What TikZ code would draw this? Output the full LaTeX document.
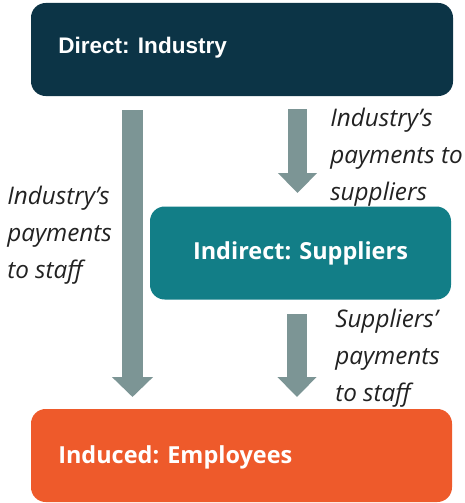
\documentclass[tikz,border=0pt]{standalone}
\usepackage{fontspec}
\setmainfont{Open Sans}
\newfontfamily\boxfont{Liberation Sans}
\usetikzlibrary{arrows.meta}
\definecolor{dirc}{HTML}{0C3446}
\definecolor{indc}{HTML}{127E87}
\definecolor{empc}{HTML}{EE5A2B}
\definecolor{arrc}{HTML}{7C9595}
\definecolor{txtc}{HTML}{222222}
\tikzset{
  box/.style={rounded corners=11pt, inner sep=0pt, minimum height=69.75pt},
  boxtext/.style={text=white, inner sep=0pt, font=\bfseries\fontsize{17.6}{22}\selectfont},
  note/.style={text=txtc, align=left, inner sep=0pt, anchor=north west,
    font=\fontsize{18.2}{27.6}\selectfont\itshape},
  flow/.style={draw=arrc, line width=15.4pt, -{Triangle[length=15pt, width=30pt]}}
}
\begin{document}
\begin{tikzpicture}[x=0.75pt, y=-0.75pt]
\useasboundingbox (0,0) rectangle (464,503);
% boxes
\node[box, fill=dirc, minimum width=316.5pt] (direct) at (242,49.5) {};
\node[boxtext, anchor=west, font=\boxfont\bfseries\fontsize{16.9}{20}\selectfont] (directt) at (58,48) {Direct: Industry};
\node[box, fill=indc, minimum width=225.75pt, boxtext] (indirect) at (300.5,253) {Indirect: Suppliers};
\node[box, fill=empc, minimum width=315.75pt] (induced) at (241.5,455.5) {};
\node[boxtext, anchor=west] (inducedt) at (58,457) {Induced: Employees};
% arrows
\coordinate (a1s) at (132.5,110);
\coordinate (a1e) at (132.5,397);
\coordinate (a2s) at (297.5,109);
\coordinate (a2e) at (297.5,193);
\coordinate (a3s) at (297,314);
\coordinate (a3e) at (297,397);
\draw[flow] (a1s) -- (a1e);
\draw[flow, line width=14.6pt, -{Triangle[length=15pt, width=28.5pt]}] (a2s) -- (a2e);
\draw[flow, line width=14.6pt, -{Triangle[length=15pt, width=28.5pt]}] (a3s) -- (a3e);
% labels
\node[note] (n1) at (330,108) {Industry's\\payments to\\suppliers};
\node[note] (n2) at (7,186) {Industry's\\payments\\to staff};
\node[note] (n3) at (335,309) {Suppliers'\\payments\\to staff};
\end{tikzpicture}
\end{document}
